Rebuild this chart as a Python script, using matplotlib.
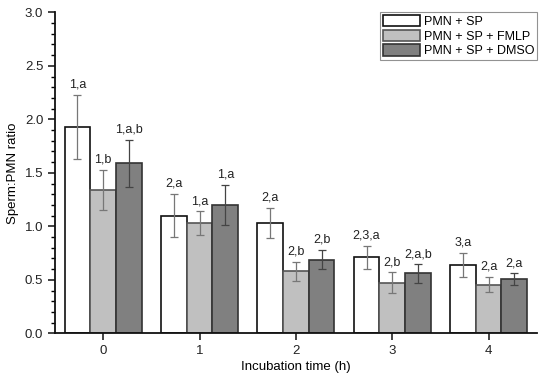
import matplotlib
matplotlib.use("Agg")
import matplotlib.pyplot as plt
import numpy as np
from matplotlib.ticker import MultipleLocator

plt.rcParams['font.family'] = ['Liberation Sans', 'DejaVu Sans']

times = [0, 1, 2, 3, 4]
series_names = ["PMN + SP", "PMN + SP + FMLP", "PMN + SP + DMSO"]
pmn_sp = [1.93, 1.10, 1.03, 0.71, 0.64]
pmn_sp_err = [0.30, 0.20, 0.14, 0.105, 0.115]
pmn_fmlp = [1.34, 1.03, 0.58, 0.475, 0.455]
pmn_fmlp_err = [0.19, 0.11, 0.09, 0.095, 0.07]
pmn_dmso = [1.59, 1.20, 0.69, 0.56, 0.505]
pmn_dmso_err = [0.22, 0.19, 0.09, 0.085, 0.055]
labels_sp = ["1,a", "2,a", "2,a", "2,3,a", "3,a"]
labels_fmlp = ["1,b", "1,a", "2,b", "2,b", "2,a"]
labels_dmso = ["1,a,b", "1,a", "2,b", "2,a,b", "2,a"]

fig = plt.figure(figsize=(5.5, 3.76), dpi=100)
ax = fig.add_axes([0.1, 0.1135, 0.876, 0.8535])

width = 0.267
x = np.arange(len(times))
data = [(pmn_sp, pmn_sp_err, labels_sp), (pmn_fmlp, pmn_fmlp_err, labels_fmlp),
        (pmn_dmso, pmn_dmso_err, labels_dmso)]
faces = ["#ffffff", "#c0c0c0", "#808080"]
edges = ["#111111", "#555555", "#333333"]
ecolors = ["#777777", "#777777", "#444444"]
for i, ((vals, errs, labs), fc, ec, erc, name) in enumerate(zip(data, faces, edges, ecolors, series_names)):
    pos = x + (i - 1) * width
    ax.bar(pos, vals, width, color=fc, edgecolor=ec, linewidth=1.2, label=name, zorder=2)
    ax.errorbar(pos, vals, yerr=errs, fmt='none', ecolor=erc, elinewidth=0.9,
                capsize=3, capthick=0.9, zorder=3)
    for p, v, e, l in zip(pos, vals, errs, labs):
        ax.text(p, v + e + 0.04, l, ha='center', va='bottom', fontsize=9, color='#222222')

ax.set_xlim(-0.5, 4.5)
ax.set_ylim(0, 3.0)
ax.set_xticks(x)
ax.set_xticklabels([str(t) for t in times])
ax.yaxis.set_major_locator(MultipleLocator(0.5))
ax.yaxis.set_minor_locator(MultipleLocator(0.1))
ax.yaxis.set_major_formatter(matplotlib.ticker.FormatStrFormatter('%.1f'))
ax.tick_params(axis='both', which='major', direction='out', length=5, width=1.2, labelsize=9.5, colors='#222222')
ax.tick_params(axis='y', which='minor', direction='out', length=3, width=1.0)
for s in ['top', 'right']:
    ax.spines[s].set_visible(False)
for s in ['left', 'bottom']:
    ax.spines[s].set_linewidth(1.3)
    ax.spines[s].set_color('#111111')

ax.set_xlabel("Incubation time (h)", fontsize=9.5, labelpad=3)
ax.set_ylabel("Sperm:PMN ratio", fontsize=9.5, labelpad=4)

leg = ax.legend(loc='upper right', bbox_to_anchor=(1.0, 1.0), fontsize=9, frameon=True,
                fancybox=False, edgecolor='#777777', handlelength=3.0, handleheight=1.0,
                borderpad=0.2, labelspacing=0.15, handletextpad=0.3, borderaxespad=0.0)
leg.get_frame().set_linewidth(0.8)

fig.savefig("out.png", dpi=100)
